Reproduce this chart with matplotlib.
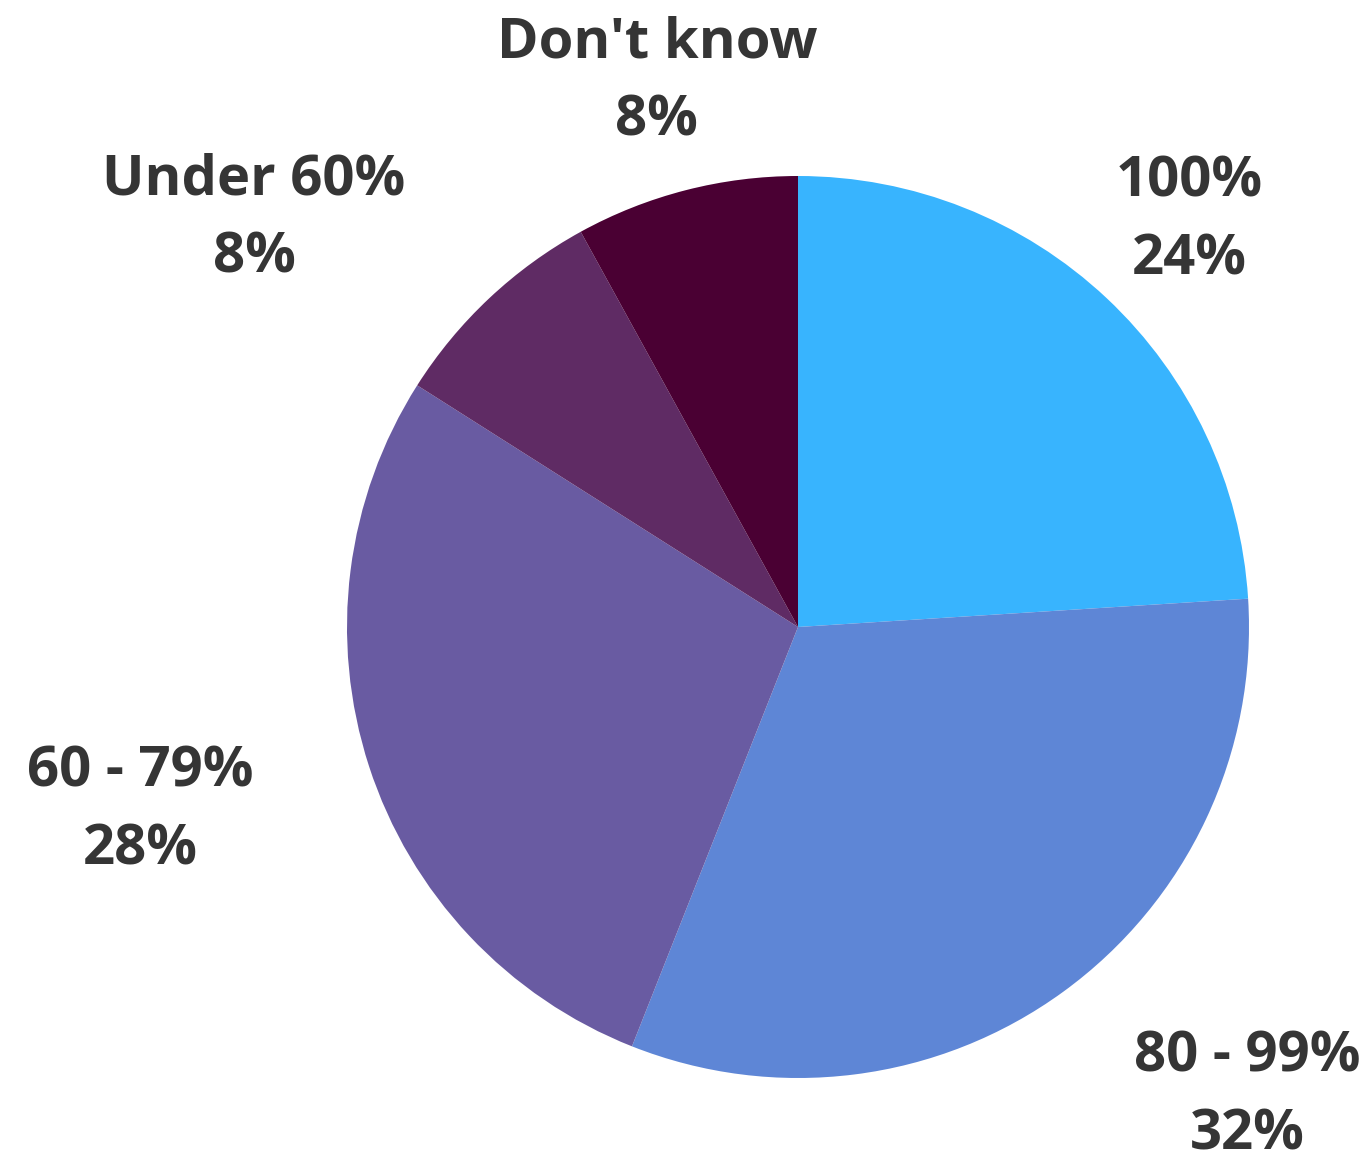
import matplotlib
matplotlib.use("Agg")
import matplotlib.pyplot as plt

plt.rcParams["font.family"] = ["Open Sans", "DejaVu Sans"]

# slice sizes (clockwise from 12 o'clock)
categories = ["100%", "80 - 99%", "60 - 79%", "Under 60%", "Don't know"]
sizes = [24, 32, 28, 8, 8]
colors = ["#38B4FE", "#5E86D6", "#695BA2", "#5F2B64", "#4A0033"]

# label anchors, in units of the pie radius
label_pos = [(0.867, 0.900), (0.996, -1.040), (-1.459, -0.408),
             (-1.206, 0.905), (-0.313, 1.209)]

W, H = 1371, 1159
fig = plt.figure(figsize=(W / 100, H / 100), dpi=100)
cx, cy, r = 798, 627, 451
ax = fig.add_axes([(cx - r) / W, (H - cy - r) / H, 2 * r / W, 2 * r / H])
ax.pie(sizes, colors=colors, startangle=90, counterclock=False,
       wedgeprops=dict(linewidth=0))
ax.set_xlim(-1, 1), ax.set_ylim(-1, 1)
ax.set_aspect("equal")
ax.axis("off")

total = sum(sizes)
for cat, v, (x, y) in zip(categories, sizes, label_pos):
    ax.text(x, y, "%s\n%d%%" % (cat, round(100 * v / total)),
            ha="center", va="center",
            fontsize=40.5, fontweight="bold", color="#353535",
            linespacing=1.54, clip_on=False)

fig.savefig("out.png", dpi=100)
